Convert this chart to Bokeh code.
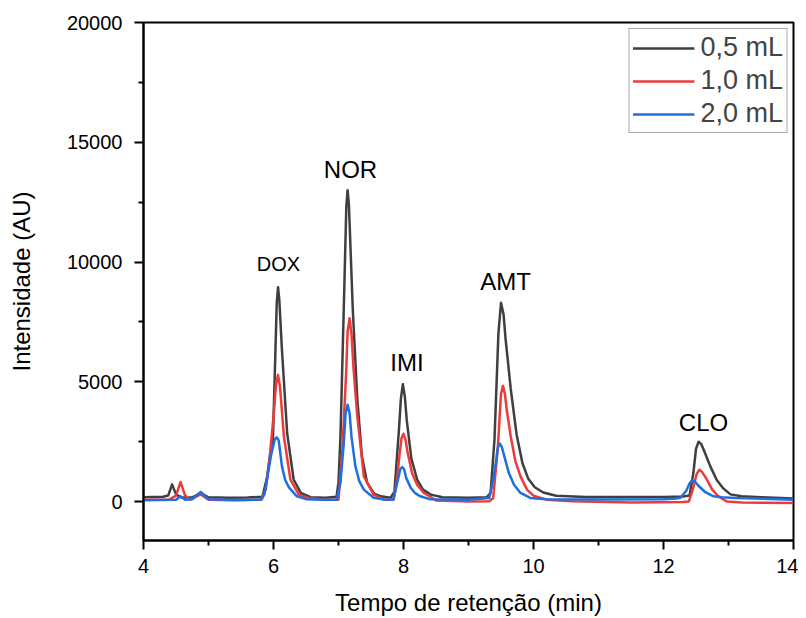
from bokeh.plotting import figure
from bokeh.models import FixedTicker, Range1d, Legend, LegendItem, ColumnDataSource
from bokeh.core.properties import value
from bokeh.embed import file_html
from bokeh.resources import INLINE

# ---- data ----
x_05 = [4.0, 4.3, 4.38, 4.44, 4.50, 4.58, 4.75, 4.88, 5.0, 5.3, 5.6, 5.83, 5.90, 5.95, 5.99, 6.03, 6.05,
        6.07, 6.09, 6.13, 6.21, 6.31, 6.42, 6.57, 6.8, 6.97, 7.0, 7.03, 7.09, 7.12, 7.14, 7.16, 7.22, 7.29,
        7.36, 7.44, 7.55, 7.65, 7.8, 7.86, 7.93, 7.96, 7.99, 8.02, 8.05, 8.12, 8.21, 8.30, 8.42, 8.6, 9.0,
        9.28, 9.34, 9.40, 9.46, 9.50, 9.54, 9.57, 9.65, 9.74, 9.83, 9.92, 10.02, 10.15, 10.35, 10.8, 11.5,
        12.0, 12.3, 12.40, 12.46, 12.50, 12.54, 12.58, 12.62, 12.72, 12.82, 12.92, 13.03, 13.2, 13.5, 14.0]
y_05 = [180, 200, 250, 720, 300, 170, 180, 350, 180, 160, 170, 200, 1000, 2000, 2440, 6330, 8300,
        8950, 8400, 6330, 2860, 920, 360, 180, 160, 200, 800, 2700, 9000, 12300, 13000, 12400, 8000, 4250,
        1900, 790, 330, 220, 160, 400, 3000, 4300, 4900, 4400, 3400, 1800, 920, 500, 290, 180, 160,
        180, 360, 2600, 7000, 8300, 7800, 6800, 4700, 2800, 1600, 950, 600, 380, 240, 190, 190,
        190, 210, 250, 1200, 2200, 2500, 2400, 2150, 1470, 900, 550, 300, 220, 180, 130]

x_10 = [4.0, 4.4, 4.50, 4.57, 4.64, 4.72, 4.88, 5.0, 5.4, 5.82, 5.88, 5.94, 6.00, 6.04, 6.07, 6.10,
        6.16, 6.26, 6.39, 6.55, 6.8, 7.0, 7.06, 7.12, 7.14, 7.17, 7.20, 7.23, 7.29, 7.39, 7.54, 7.7, 7.85,
        7.90, 7.94, 7.97, 8.00, 8.03, 8.06, 8.13, 8.21, 8.31, 8.5, 9.0, 9.32, 9.38, 9.45, 9.50, 9.53, 9.56,
        9.59, 9.65, 9.72, 9.80, 9.9, 10.0, 10.2, 10.6, 11.5, 12.3, 12.39, 12.45, 12.51, 12.55, 12.59,
        12.65, 12.75, 12.85, 12.98, 13.2, 14.0]
y_10 = [80, 90, 250, 820, 250, 80, 300, 80, 60, 80, 500, 1800, 3550, 4900, 5290, 4800,
        2720, 920, 290, 140, 80, 80, 2170, 5500, 7100, 7650, 7000, 5600, 3550, 1050, 290, 80, 80,
        920, 2000, 2650, 2830, 2600, 2100, 1200, 700, 370, 50, 0, 10, 150, 2200, 4500, 4830, 4500,
        3800, 2720, 1700, 1050, 500, 250, 80, 10, -40, -20, 0, 500, 1150, 1330, 1250,
        1000, 500, 200, 0, -40, -60]

x_20 = [4.0, 4.5, 4.57, 4.64, 4.75, 4.88, 5.0, 5.4, 5.8, 5.86, 5.90, 5.96, 6.02, 6.05, 6.08, 6.13,
        6.18, 6.24, 6.36, 6.5, 6.8, 6.97, 7.03, 7.08, 7.11, 7.14, 7.17, 7.20, 7.26, 7.32, 7.39, 7.54, 7.7,
        7.84, 7.88, 7.93, 7.95, 7.98, 8.01, 8.04, 8.11, 8.18, 8.26, 8.4, 9.0, 9.32, 9.38, 9.43, 9.45, 9.48,
        9.51, 9.54, 9.62, 9.70, 9.80, 9.95, 10.2, 11.0, 12.0, 12.2, 12.26, 12.35, 12.40, 12.44, 12.49,
        12.54, 12.65, 12.77, 12.9, 13.1, 14.0]
y_20 = [60, 80, 220, 80, 100, 400, 100, 70, 80, 300, 920, 1900, 2600, 2680, 2550, 1470,
        900, 580, 220, 100, 80, 80, 790, 2400, 3700, 4040, 3700, 2700, 1470, 850, 500, 160, 90,
        80, 500, 1100, 1350, 1440, 1350, 1000, 580, 350, 220, 100, 80, 150, 900, 1800, 2250, 2420,
        2300, 2000, 1200, 700, 360, 150, 100, 90, 100, 130, 160, 450, 750, 890, 820,
        650, 380, 220, 180, 150, 80]

series_labels = ["0,5 mL", "1,0 mL", "2,0 mL"]
series_colors = ["#3f3f3f", "#ee3a3a", "#1f6fde"]

peak_names = ["DOX", "NOR", "IMI", "AMT", "CLO"]
peak_x = [6.077, 7.185, 8.054, 9.569, 12.615]
peak_y = [9938, 13846, 5788, 9200, 3288]
peak_sizes = ["20px", "24px", "24px", "24px", "24px"]

x_ticks = [4, 6, 8, 10, 12, 14]
x_minor = [5, 7, 9, 11, 13]
y_ticks = [0, 5000, 10000, 15000, 20000]
y_minor = [2500, 7500, 12500, 17500]

FONT = "Liberation Sans"

p = figure(width=798, height=618, output_backend="svg", toolbar_location=None,
           x_range=Range1d(4, 14), y_range=Range1d(-1625, 20000),
           min_border_left=143, min_border_right=5, min_border_top=22, min_border_bottom=75)

p.xgrid.visible = False
p.ygrid.visible = False
p.outline_line_color = "black"
p.outline_line_width = 2
p.outline_line_alpha = 1

renderers = []
for xs, ys, c in zip([x_05, x_10, x_20], [y_05, y_10, y_20], series_colors):
    r = p.line(xs, ys, line_color=c, line_width=2.5, line_join="round")
    renderers.append(r)

src = ColumnDataSource(dict(x=peak_x, y=peak_y, t=peak_names, s=peak_sizes))
p.text(x="x", y="y", text="t", source=src, text_font=value(FONT), text_font_size="s",
       text_align="center", text_baseline="middle", text_color="black")

for ax in (p.xaxis[0], p.yaxis[0]):
    ax.axis_line_width = 2
    ax.major_tick_line_width = 2
    ax.minor_tick_line_width = 2
    ax.major_tick_out = 9
    ax.major_tick_in = 0
    ax.minor_tick_out = 5
    ax.minor_tick_in = 0
    ax.major_label_text_font = FONT
    ax.major_label_text_font_size = "20px"
    ax.major_label_text_color = "black"
    ax.axis_label_text_font = FONT
    ax.axis_label_text_font_size = "24px"
    ax.axis_label_text_font_style = "normal"
    ax.axis_label_text_color = "black"

p.xaxis.ticker = FixedTicker(ticks=x_ticks, minor_ticks=x_minor)
p.yaxis.ticker = FixedTicker(ticks=y_ticks, minor_ticks=y_minor)
p.xaxis.axis_label = "Tempo de retenção (min)"
p.yaxis.axis_label = "Intensidade (AU)"
p.xaxis.major_label_standoff = 9
p.yaxis.major_label_standoff = 12
p.xaxis.axis_label_standoff = 13
p.yaxis.axis_label_standoff = 29

legend = Legend(items=[LegendItem(label=l, renderers=[r]) for l, r in zip(series_labels, renderers)],
                location="top_right", margin=6, padding=3, spacing=2,
                glyph_width=62, glyph_height=28, label_height=28, label_standoff=6,
                label_text_font=FONT, label_text_font_size="27px",
                border_line_color="#555555", border_line_width=1,
                background_fill_color="white", background_fill_alpha=1)
p.add_layout(legend)

open("out.html", "w").write(file_html(p, INLINE))
